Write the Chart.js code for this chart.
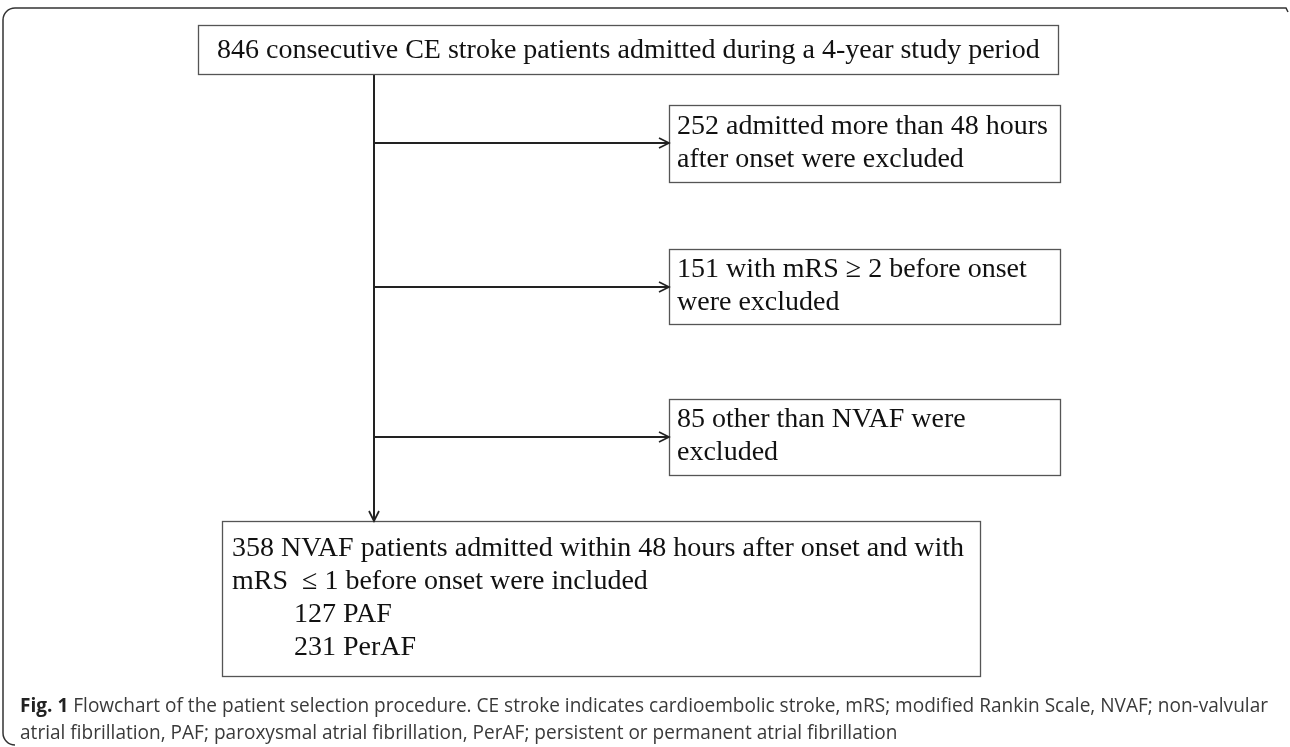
<!DOCTYPE html>
<html>
<head>
<meta charset="utf-8">
<title>Flowchart of the patient selection procedure</title>
<script src="https://cdn.jsdelivr.net/npm/chart.js@4.4.1/dist/chart.umd.min.js"></script>
<style>
  html, body { margin: 0; padding: 0; background: #fff; }
  #wrap { position: relative; width: 1290px; height: 747px; }
</style>
</head>
<body>
<div id="wrap"><canvas id="flow" width="1290" height="747"></canvas></div>
<script>
// patient counts at each step of the selection
const stepCounts = [846, 252, 151, 85, 358, 127, 231]

// box texts, one string per line
const topLines = [`${stepCounts[0]} consecutive CE stroke patients admitted during a 4-year study period`]
const exclLines = [
  [`${stepCounts[1]} admitted more than 48 hours`, 'after onset were excluded'],
  [`${stepCounts[2]} with mRS \u2265 2 before onset`, 'were excluded'],
  [`${stepCounts[3]} other than NVAF were`, 'excluded']
]
const inclLines = [
  `${stepCounts[4]} NVAF patients admitted within 48 hours after onset and with`,
  'mRS  \u2264 1 before onset were included',
  `${stepCounts[5]} PAF`,
  `${stepCounts[6]} PerAF`
]
const captionBold = 'Fig. 1'
const captionLines = [
  ' Flowchart of the patient selection procedure. CE stroke indicates cardioembolic stroke, mRS; modified Rankin Scale, NVAF; non-valvular',
  'atrial fibrillation, PAF; paroxysmal atrial fibrillation, PerAF; persistent or permanent atrial fibrillation'
]

// layout, in page pixels (the hidden axes run 0..1290 and 0..747)
const topBox = { x0: 198, y0: 25, x1: 1058, y1: 74, tx: 217, base: [58] }
const exclBoxes = [
  { x0: 669, y0: 105, x1: 1060, y1: 182, tx: 677, base: [134, 167] },
  { x0: 669, y0: 249, x1: 1060, y1: 324, tx: 677, base: [277, 310] },
  { x0: 669, y0: 399, x1: 1060, y1: 475, tx: 677, base: [427, 460] }
]
const inclBox = { x0: 222, y0: 521, x1: 980, y1: 676, tx: 232, base: [556, 589, 622, 655], indent: [0, 0, 62, 62] }
const trunkX = 374
const branchY = [143, 287, 437]

const FONT = '"Liberation Serif", "Times New Roman", serif'
const FONT_SIZE = 28

// connector lines as line datasets
const connectors = [
  [{ x: trunkX, y: topBox.y1 }, { x: trunkX, y: inclBox.y0 }],
  ...branchY.map((y, i) => [{ x: trunkX, y }, { x: exclBoxes[i].x0, y }])
]

function px (chart, x, y) {
  return [chart.scales.x.getPixelForValue(x), chart.scales.y.getPixelForValue(y)]
}

function drawBox (ctx, chart, b) {
  const [x0, y0] = px(chart, b.x0, b.y0)
  const [x1, y1] = px(chart, b.x1, b.y1)
  ctx.strokeStyle = '#555'
  ctx.lineWidth = 1.3
  ctx.strokeRect(x0 + 0.5, y0 + 0.5, x1 - x0, y1 - y0)
}

function drawLines (ctx, chart, b, lines) {
  ctx.font = `${FONT_SIZE}px ${FONT}`
  ctx.fillStyle = '#111'
  ctx.textBaseline = 'alphabetic'
  ctx.textAlign = 'left'
  lines.forEach((t, i) => {
    const [x, y] = px(chart, b.tx + (b.indent ? b.indent[i] : 0), b.base[i])
    ctx.fillText(t, x, y)
  })
}

function arrowHead (ctx, x, y, dir) {
  ctx.beginPath()
  if (dir === 'right') {
    ctx.moveTo(x - 10, y - 5); ctx.lineTo(x, y); ctx.lineTo(x - 10, y + 5)
  } else {
    ctx.moveTo(x - 5, y - 10); ctx.lineTo(x, y); ctx.lineTo(x + 5, y - 10)
  }
  ctx.strokeStyle = '#222'
  ctx.lineWidth = 1.7
  ctx.stroke()
}

const flowPlugin = {
  id: 'flow',
  beforeDraw (chart) {
    const ctx = chart.ctx
    ctx.save()
    ctx.fillStyle = '#fff'
    ctx.fillRect(0, 0, chart.width, chart.height)
    // page frame: top rule, rounded left side
    const [fx0, fy0] = px(chart, 3, 8)
    const [fx1, fy1] = px(chart, 1287, 745)
    const r = 12
    ctx.beginPath()
    ctx.moveTo(fx1 + 1, fy0 + 4)
    ctx.lineTo(fx1 - 1, fy0)
    ctx.lineTo(fx0 + r, fy0)
    ctx.arcTo(fx0, fy0, fx0, fy0 + r, r)
    ctx.lineTo(fx0, fy1 - r)
    ctx.arcTo(fx0, fy1, fx0 + r, fy1, r)
    ctx.strokeStyle = '#333'
    ctx.lineWidth = 1.5
    ctx.stroke()
    ctx.restore()
  },
  afterDatasetsDraw (chart) {
    const ctx = chart.ctx
    ctx.save()
    drawBox(ctx, chart, topBox)
    drawLines(ctx, chart, topBox, topLines)
    exclBoxes.forEach((b, i) => {
      drawBox(ctx, chart, b)
      drawLines(ctx, chart, b, exclLines[i])
    })
    drawBox(ctx, chart, inclBox)
    drawLines(ctx, chart, inclBox, inclLines)

    branchY.forEach((y, i) => {
      const [ax, ay] = px(chart, exclBoxes[i].x0, y)
      arrowHead(ctx, ax, ay, 'right')
    })
    const [dx, dy] = px(chart, trunkX, inclBox.y0)
    arrowHead(ctx, dx, dy, 'down')

    // caption, one narrow sans font for both lines
    const capFont = '"Open Sans", sans-serif'
    const [cx, cy] = px(chart, 20, 706)
    ctx.textBaseline = 'middle'
    ctx.font = `bold 20px ${capFont}`
    const bw = ctx.measureText(captionBold).width
    ctx.font = `20px ${capFont}`
    const k = 1248 / (bw + ctx.measureText(captionLines[0]).width)
    captionLines.forEach((t, i) => {
      ctx.save()
      ctx.translate(cx, cy + i * 27)
      ctx.scale(k, 1)
      let off = 0
      if (i === 0) {
        ctx.font = `bold 20px ${capFont}`
        ctx.fillStyle = '#222'
        ctx.fillText(captionBold, 0, 0)
        off = bw
      }
      ctx.font = `20px ${capFont}`
      ctx.fillStyle = '#3a3a3a'
      ctx.fillText(t, off, 0)
      ctx.restore()
    })
    ctx.restore()
  }
}

new Chart(document.getElementById('flow'), {
  type: 'scatter',
  data: {
    datasets: connectors.map(pts => ({
      data: pts,
      showLine: true,
      borderColor: '#222',
      borderWidth: 2,
      pointRadius: 0,
      fill: false
    }))
  },
  options: {
    responsive: false,
    animation: false,
    events: [],
    layout: { padding: 0 },
    plugins: { legend: { display: false }, tooltip: { enabled: false } },
    scales: {
      x: { type: 'linear', min: 0, max: 1290, display: false },
      y: { type: 'linear', min: 0, max: 747, reverse: true, display: false }
    }
  },
  plugins: [flowPlugin]
})
</script>
</body>
</html>
